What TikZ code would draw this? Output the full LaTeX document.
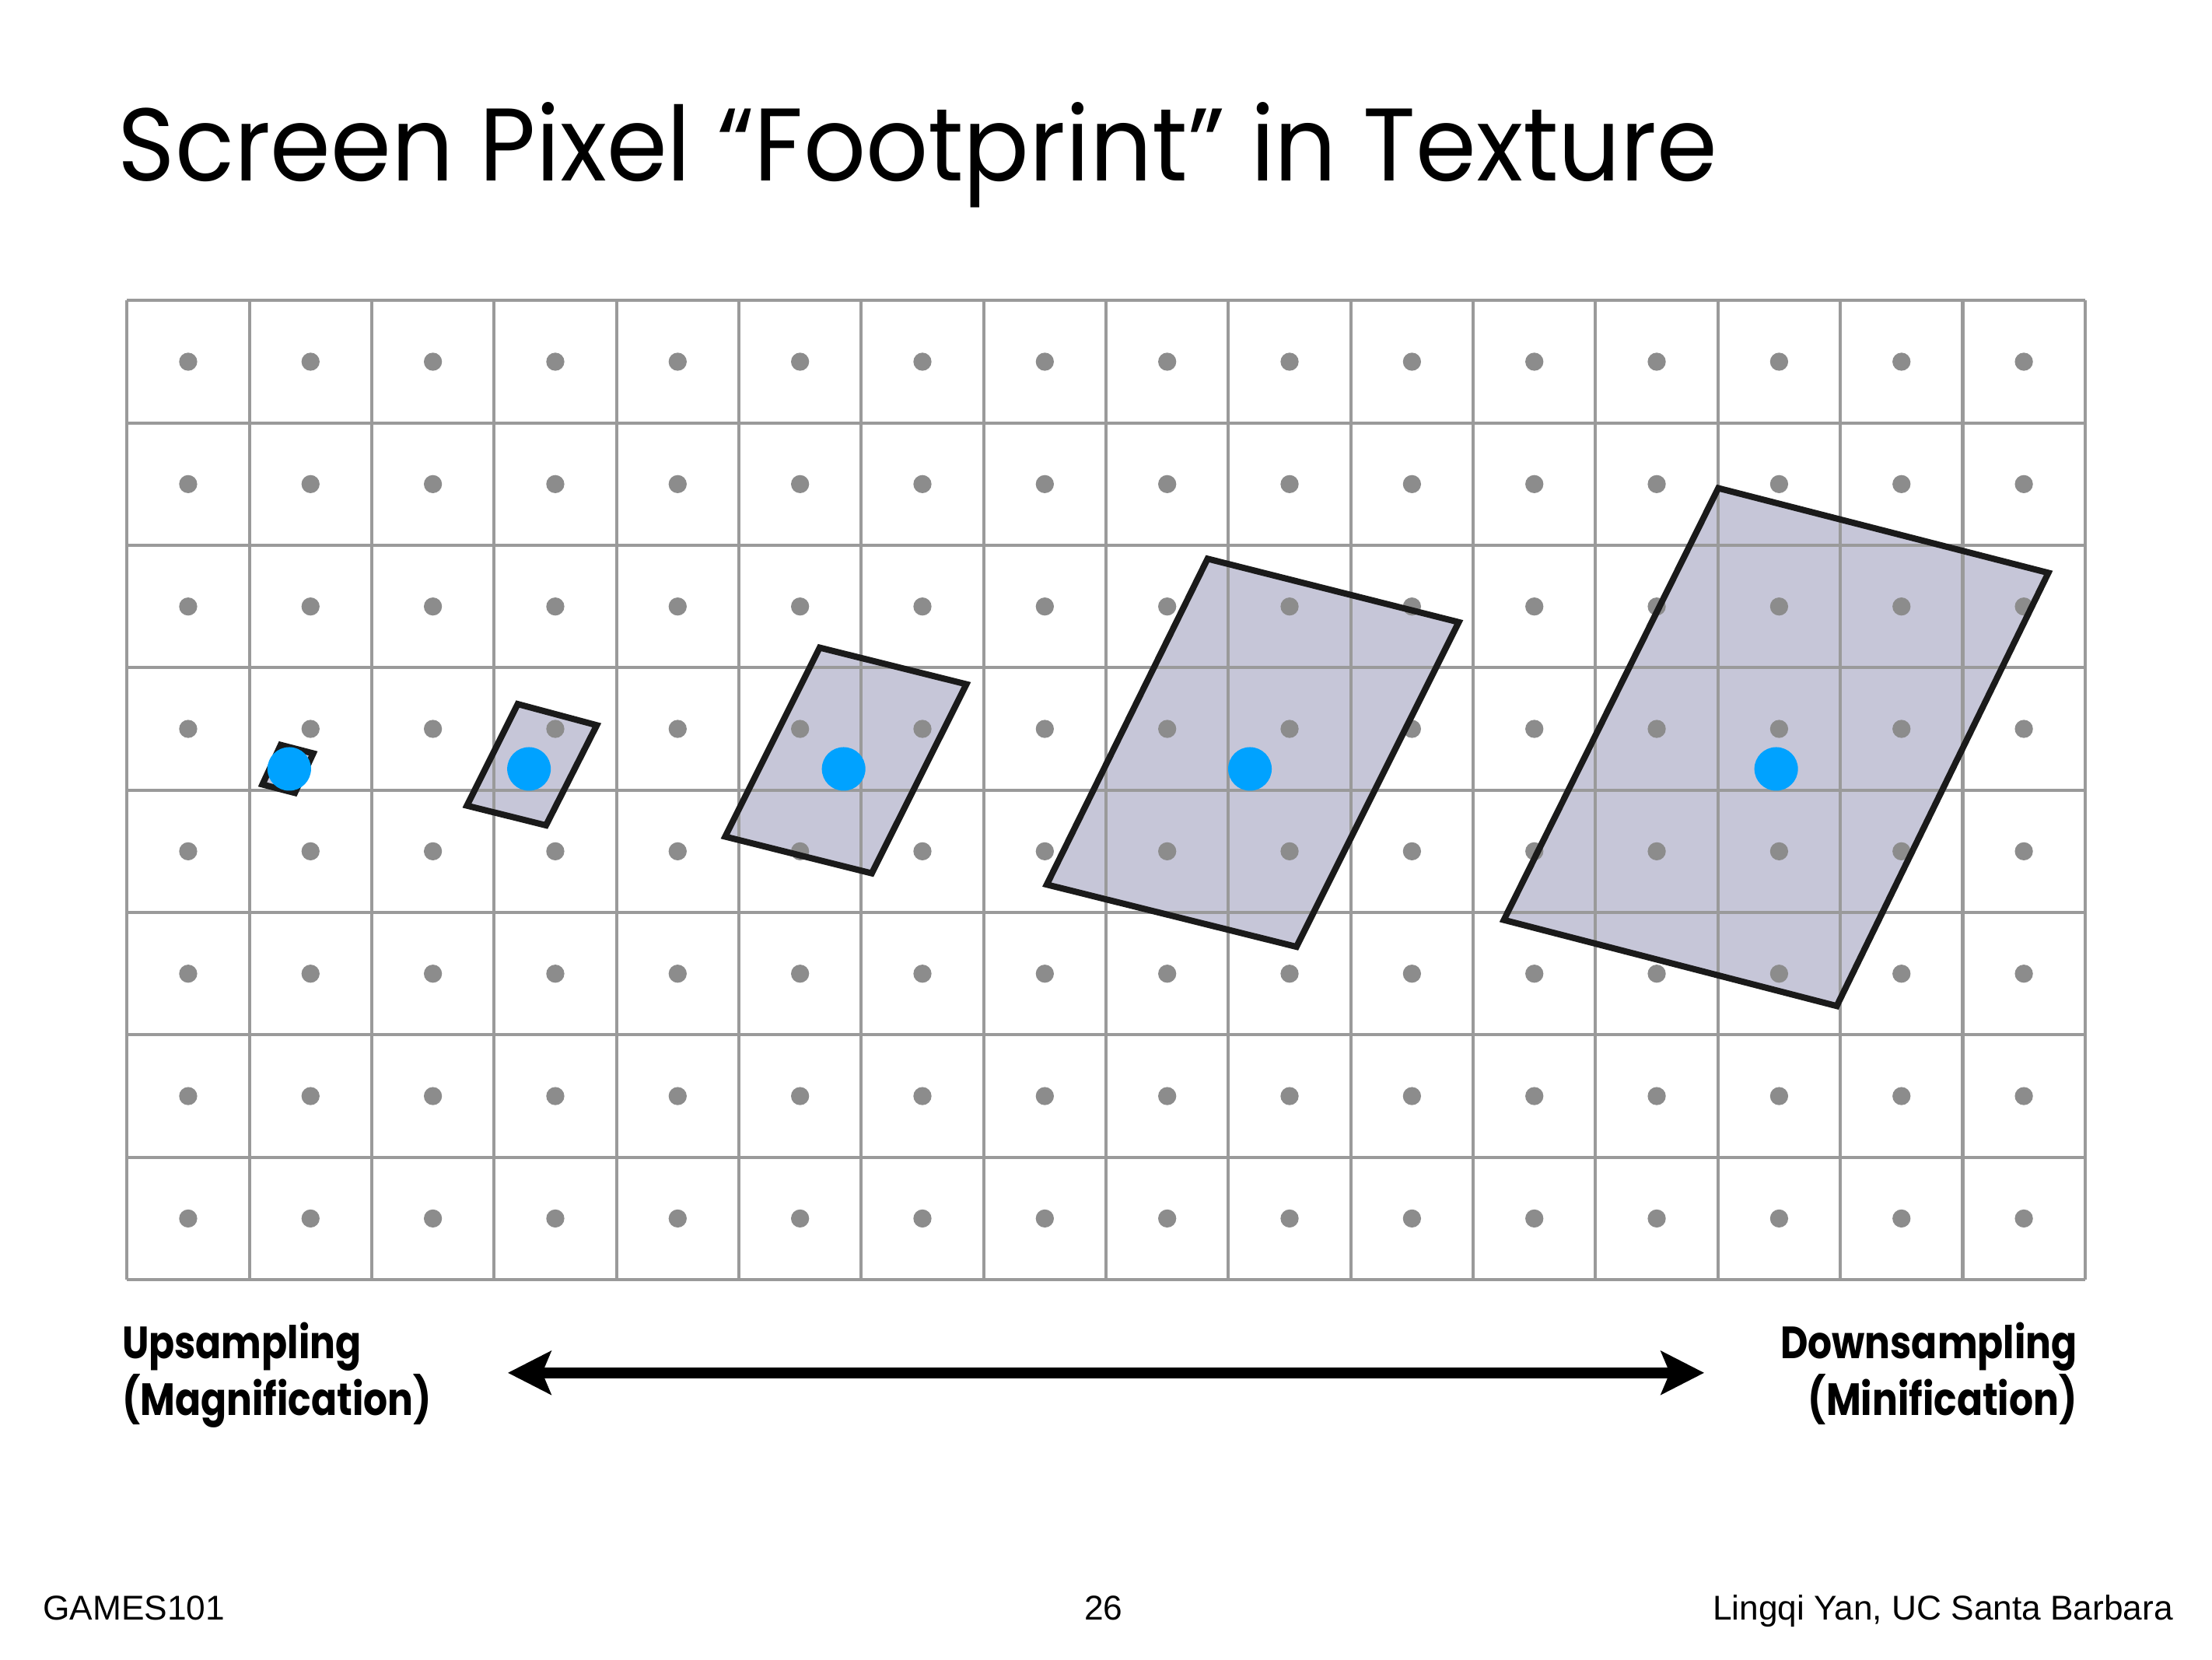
\documentclass[tikz,border=0pt]{standalone}
\usepackage{fontspec}
\setmainfont{Liberation Sans}
\newfontfamily\titlefont[FakeStretch=0.944]{Poppins}
\newfontfamily\labelfont[FakeStretch=0.84]{Poppins}
\usetikzlibrary{arrows.meta}
\definecolor{gridgray}{HTML}{9A9A9A}
\definecolor{dotgray}{HTML}{8C8C8C}
\definecolor{footfill}{HTML}{C6C6D8}
\definecolor{outline}{HTML}{1A1A1A}
\definecolor{sampleblue}{HTML}{00A2FF}

\begin{document}
\begin{tikzpicture}[
    footprint/.style={draw=outline, line width=1.45pt},
    sidelabel/.style={font=\labelfont\bfseries\fontsize{10.5}{12.6}\selectfont, inner sep=0pt},
    footer/.style={font=\fontsize{8}{9.6}\selectfont, anchor=base, inner sep=0pt}]
  \useasboundingbox (-1.0375,-3.1009) rectangle (17.0375,10.4553);
  % pixel footprints, smallest to largest
  \coordinate (f1-1) at (1.256,4.369); \coordinate (f1-2) at (1.522,4.300);
  \coordinate (f1-3) at (1.372,3.977); \coordinate (f1-4) at (1.107,4.046);
  \coordinate (f2-1) at (3.193,4.703); \coordinate (f2-2) at (3.839,4.530);
  \coordinate (f2-3) at (3.424,3.712); \coordinate (f2-4) at (2.778,3.873);
  \coordinate (f3-1) at (5.660,5.164); \coordinate (f3-2) at (6.859,4.865);
  \coordinate (f3-3) at (6.086,3.320); \coordinate (f3-4) at (4.888,3.620);
  \coordinate (f4-1) at (8.830,5.890); \coordinate (f4-2) at (10.882,5.372);
  \coordinate (f4-3) at (9.556,2.720); \coordinate (f4-4) at (7.516,3.228);
  \coordinate (f5-1) at (13.003,6.467); \coordinate (f5-2) at (15.700,5.775);
  \coordinate (f5-3) at (13.971,2.236); \coordinate (f5-4) at (11.251,2.939);
  \foreach \i in {1,...,5}
    \fill[footfill] (f\i-1) -- (f\i-2) -- (f\i-3) -- (f\i-4) -- cycle;
  % texture grid with texel centres
  \draw[gridgray, line width=0.75pt] (0,0) grid (16,8);
  \foreach \x in {0,...,15}
    \foreach \y in {0,...,7}
      \fill[dotgray] (\x+0.5,\y+0.5) circle[radius=0.074];
  \foreach \i in {1,...,5}
    \draw[footprint] (f\i-1) -- (f\i-2) -- (f\i-3) -- (f\i-4) -- cycle;
  % screen sample points
  \foreach \x in {1.326,3.285,5.856,9.176,13.476}
    \fill[sampleblue] (\x,4.173) circle[radius=0.178];
  \node[font=\titlefont\fontsize{24}{28}\selectfont, anchor=base west, inner sep=0pt] (title)
    at (-0.081,8.98) {Screen Pixel “Footprint” in Texture};
  \node[sidelabel, anchor=base west] (up) at (-0.046,-0.646) {Upsampling};
  \node[sidelabel, anchor=base west] (mag) at (-0.046,-1.107) {(Magnification)};
  \node[sidelabel, anchor=base east] (down) at (15.942,-0.646) {Downsampling};
  \node[sidelabel, anchor=base east] (min) at (15.942,-1.107) {(Minification)};
  \coordinate (small) at (3.112,-0.761);
  \coordinate (large) at (12.888,-0.761);
  \draw[{Stealth[length=10pt, width=10pt, inset=2pt]}-{Stealth[length=10pt, width=10pt, inset=2pt]},
    line width=2.5pt] (small) -- (large);
  \node[footer, anchor=base west] (course) at (-0.692,-2.778) {GAMES101};
  \node[footer] (page) at (7.98,-2.778) {26};
  \node[footer, anchor=base east] (author) at (16.726,-2.778) {Lingqi Yan, UC Santa Barbara};
\end{tikzpicture}
\end{document}
